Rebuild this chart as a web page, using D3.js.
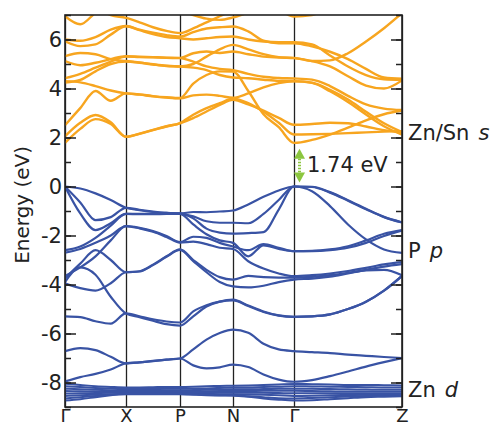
<!DOCTYPE html>
<html><head><meta charset="utf-8">
<script src="https://cdn.jsdelivr.net/npm/d3@7"></script>
<style>body{margin:0;background:#fff}svg{display:block}</style>
</head><body>
<svg id="c" width="499" height="427"></svg>
<script>
// ---------- data ----------
const kLabels = ["Γ", "X", "P", "N", "Γ", "Z"];
const kLabelPos = [0, 0.61, 1.15, 1.68, 2.29, 3.37];
const kGrid = [0, 0.1525, 0.305, 0.4575, 0.61, 0.745, 0.88, 1.015, 1.15, 1.2825, 1.415, 1.5475, 1.68,
  1.8325, 1.985, 2.1375, 2.29, 2.47, 2.65, 2.83, 3.01, 3.19, 3.37];

const valence = [
  [0, -0.08, -0.28, -0.55, -0.87, -0.97, -1.04, -1.08, -1.1, -1.04, -1.05, -1.02, -0.98, -0.73, -0.42, -0.16, 0, -0.01, -0.23, -0.56, -0.91, -1.24, -1.46],
  [0, -0.65, -1.37, -1.25, -0.87, -0.95, -1.02, -1.08, -1.12, -1.22, -1.42, -1.48, -1.48, -1.5, -1.12, -0.55, 0, -0.19, -0.8, -1.55, -2.16, -2.57, -2.71],
  [0, -1.1, -1.78, -1.5, -1.12, -1.12, -1.11, -1.11, -1.1, -1.3, -1.72, -1.88, -1.92, -1.9, -1.86, -0.94, 0, -0.02, -0.25, -0.58, -0.93, -1.25, -1.47],
  [-2.6, -2.45, -2.1, -1.6, -1.12, -1.13, -1.13, -1.12, -1.12, -1.55, -1.95, -2.2, -2.3, -2.85, -2.4, -2.55, -2.64, -2.63, -2.57, -2.44, -2.2, -1.93, -1.78],
  [-2.7, -2.55, -2.3, -2.0, -1.62, -1.69, -1.82, -2.02, -2.27, -2.05, -2.1, -2.3, -2.45, -2.6, -2.35, -2.5, -2.64, -2.64, -2.6, -2.5, -2.3, -2.02, -1.8],
  [-3.65, -3.3, -2.85, -2.2, -1.62, -1.71, -1.85, -2.06, -2.29, -2.25, -2.35, -2.5, -2.55, -3.05, -3.35, -3.55, -3.66, -3.62, -3.55, -3.45, -3.32, -3.18, -3.09],
  [-3.75, -3.15, -2.6, -3.0, -3.5, -3.46, -3.19, -2.85, -2.57, -3.0, -3.4, -3.7, -3.8, -3.65, -3.7, -3.72, -3.72, -3.69, -3.62, -3.52, -3.4, -3.27, -3.17],
  [-3.95, -4.15, -4.25, -3.95, -3.5, -3.47, -3.21, -2.87, -2.59, -3.05, -3.5, -3.9, -4.08, -4.12, -4.05, -3.9, -3.8, -3.76, -3.68, -3.55, -3.42, -3.4, -3.62],
  [-5.3, -5.33, -5.5, -5.6, -5.18, -5.3, -5.42, -5.51, -5.55, -5.1, -4.85, -4.7, -4.65, -4.88, -5.12, -5.27, -5.32, -5.3, -5.22, -5.0, -4.7, -4.25, -3.65],
  [-3.9, -3.3, -3.6, -4.5, -5.18, -5.33, -5.48, -5.62, -5.68, -5.3, -4.9, -4.7, -4.62, -4.86, -5.1, -5.26, -5.32, -5.3, -5.22, -5.0, -4.7, -4.25, -3.65],
  [-6.72, -6.6, -6.68, -6.95, -7.22, -7.18, -7.12, -7.07, -7.02, -6.65, -6.25, -5.98, -5.84, -5.97, -6.42, -6.65, -6.72, -6.76, -6.8, -6.86, -6.91, -6.96, -7.0],
  [-7.96, -7.78, -7.65, -7.47, -7.22, -7.18, -7.13, -7.07, -7.02, -7.3, -7.42, -7.38, -7.27, -7.37, -7.67, -7.88, -7.97, -7.9, -7.74, -7.55, -7.35, -7.17, -7.0]
];

const dBands = [
  [-8.05, -8.1, -8.15, -8.18, -8.2, -8.2, -8.19, -8.18, -8.18, -8.17, -8.15, -8.14, -8.13, -8.12, -8.1, -8.08, -8.06, -8.07, -8.08, -8.1, -8.1, -8.11, -8.12],
  [-8.15, -8.18, -8.22, -8.25, -8.27, -8.27, -8.27, -8.26, -8.26, -8.25, -8.24, -8.22, -8.2, -8.2, -8.18, -8.17, -8.15, -8.16, -8.17, -8.18, -8.19, -8.2, -8.2],
  [-8.25, -8.28, -8.3, -8.32, -8.33, -8.33, -8.33, -8.32, -8.32, -8.31, -8.3, -8.29, -8.28, -8.28, -8.27, -8.26, -8.25, -8.26, -8.27, -8.28, -8.29, -8.3, -8.3],
  [-8.35, -8.36, -8.37, -8.38, -8.38, -8.38, -8.38, -8.38, -8.38, -8.37, -8.36, -8.35, -8.35, -8.35, -8.34, -8.34, -8.34, -8.35, -8.36, -8.37, -8.37, -8.38, -8.38],
  [-8.45, -8.44, -8.43, -8.42, -8.42, -8.42, -8.42, -8.42, -8.43, -8.43, -8.43, -8.42, -8.42, -8.42, -8.42, -8.43, -8.44, -8.44, -8.44, -8.44, -8.44, -8.45, -8.45],
  [-8.55, -8.52, -8.5, -8.48, -8.47, -8.47, -8.47, -8.47, -8.47, -8.48, -8.48, -8.48, -8.48, -8.49, -8.5, -8.52, -8.55, -8.54, -8.52, -8.51, -8.5, -8.5, -8.5],
  [-8.65, -8.6, -8.55, -8.5, -8.48, -8.48, -8.48, -8.48, -8.48, -8.5, -8.52, -8.53, -8.53, -8.56, -8.6, -8.64, -8.65, -8.63, -8.6, -8.57, -8.55, -8.55, -8.55],
  [-8.73, -8.68, -8.6, -8.52, -8.45, -8.45, -8.45, -8.45, -8.45, -8.47, -8.5, -8.52, -8.53, -8.58, -8.65, -8.7, -8.73, -8.72, -8.68, -8.64, -8.6, -8.58, -8.56]
];

const conduction = [
  [1.78, 2.35, 2.75, 2.55, 2.03, 2.15, 2.3, 2.45, 2.58, 2.79, 3.06, 3.33, 3.54, 3.35, 3.1, 2.8, 2.52, 2.55, 2.6, 2.58, 2.45, 2.3, 2.2],
  [2.05, 2.6, 2.92, 2.62, 2.03, 2.16, 2.31, 2.46, 2.59, 2.93, 3.2, 3.4, 3.58, 3.4, 3.05, 2.6, 2.12, 2.13, 2.15, 2.18, 2.21, 2.24, 2.26],
  [2.5, 3.2, 3.9, 3.5, 3.8, 3.75, 3.68, 3.63, 3.6, 3.72, 3.75, 3.7, 3.62, 3.8, 4.05, 4.22, 4.29, 4.23, 3.89, 3.45, 2.94, 2.46, 2.12],
  [4.3, 4.25, 4.1, 3.92, 3.8, 3.76, 3.69, 3.64, 3.61, 4.2, 4.55, 4.7, 4.69, 3.9, 2.95, 2.42, 1.78, 1.9, 2.12, 2.4, 2.7, 2.95, 3.1],
  [4.42, 4.6, 4.85, 5.1, 5.3, 5.28, 5.27, 5.25, 5.24, 5.1, 4.9, 4.8, 4.75, 4.6, 4.48, 4.43, 4.41, 4.36, 4.1, 3.7, 3.35, 3.18, 3.12],
  [4.24, 4.35, 4.7, 5.0, 5.1, 5.05, 4.98, 4.92, 4.9, 4.85, 4.75, 4.55, 4.45, 4.42, 4.36, 4.31, 4.3, 4.24, 3.95, 3.55, 3.05, 2.58, 2.22],
  [5.12, 4.95, 5.05, 5.2, 5.32, 5.3, 5.28, 5.26, 5.25, 5.44, 5.51, 5.45, 5.51, 5.4, 5.3, 5.26, 5.25, 5.12, 5.15, 5.44, 5.92, 6.46, 7.08],
  [5.32, 5.45, 5.4, 5.2, 5.12, 5.06, 4.99, 4.93, 4.9, 5.0, 5.3, 5.6, 5.78, 5.6, 5.4, 5.28, 5.24, 5.12, 4.9, 4.5, 4.12, 4.0, 4.33],
  [5.93, 5.73, 5.8, 6.2, 6.54, 6.38, 6.22, 6.1, 6.05, 6.0, 6.05, 6.1, 6.12, 6.0, 5.92, 5.89, 5.89, 5.8, 5.35, 4.9, 4.55, 4.38, 4.36],
  [6.0, 5.95, 6.1, 6.4, 6.55, 6.4, 6.28, 6.18, 6.12, 6.3, 6.45, 6.5, 6.53, 6.33, 5.95, 5.85, 5.85, 5.72, 5.5, 5.2, 4.8, 4.45, 4.4],
  [6.95, 6.62, 7.1, 7.6, 7.9, 7.8, 7.6, 7.4, 7.2, 7.0, 6.85, 6.8, 6.9, 7.1, 7.3, 7.2, 6.94, 7.0, 7.3, 7.6, 7.9, 8.2, 8.5],
  [7.8, 7.5, 7.3, 7.0, 6.88, 6.7, 6.5, 6.35, 6.26, 6.45, 6.7, 6.95, 7.2, 7.4, 7.5, 7.5, 7.5, 7.6, 7.8, 8.0, 8.2, 8.4, 8.6]
];

const yMinorTicks = [-9, -8, -7, -6, -5, -4, -3, -2, -1, 0, 1, 2, 3, 4, 5, 6, 7];
const yMajorTicks = [-8, -6, -4, -2, 0, 2, 4, 6];
const gapValue = 1.74;
const gapLabel = "1.74 eV";
const bandLabels = [
  {main: "Zn/Sn", ital: "s", e: 1.88},
  {main: "P", ital: "p", e: -2.9},
  {main: "Zn", ital: "d", e: -8.6}
];

// ---------- layout ----------
const W = 499, H = 427;
const m = {left: 65, right: 97, top: 15, bottom: 20};
const iw = W - m.left - m.right, ih = H - m.top - m.bottom;
const FONT = "DejaVu Sans, sans-serif";
const blue = "#3953a4", orange = "#f7a51f", green = "#8cc63f";

const svg = d3.select("#c");
const g = svg.append("g").attr("transform", `translate(${m.left},${m.top})`);

const x = d3.scaleLinear().domain([kLabelPos[0], kLabelPos[kLabelPos.length - 1]]).range([0, iw]);
const y = d3.scaleLinear().domain([-9, 7]).range([ih, 0]);

g.append("clipPath").attr("id", "clip").append("rect").attr("width", iw).attr("height", ih);

// high-symmetry vertical lines + bottom labels
const xAxis = d3.axisBottom(x).tickValues(kLabelPos).tickSize(-ih).tickPadding(2)
  .tickFormat((d, i) => kLabels[i]);
const gx = g.append("g").attr("transform", `translate(0,${ih})`).call(xAxis);
gx.select(".domain").remove();
gx.selectAll("line").attr("stroke", "#222").attr("stroke-width", 1.3);
gx.selectAll("text").attr("font-family", FONT).attr("font-size", 18).attr("fill", "#222");

// bands
const line = d3.line().x((d, i) => x(kGrid[i])).y(d => y(d)).curve(d3.curveMonotoneX);
const bands = g.append("g").attr("clip-path", "url(#clip)");
bands.selectAll(".d").data(dBands).join("path")
  .attr("d", line).attr("fill", "none").attr("stroke", blue).attr("stroke-width", 2);
bands.selectAll(".v").data(valence).join("path")
  .attr("d", line).attr("fill", "none").attr("stroke", blue).attr("stroke-width", 2.2);
bands.selectAll(".c").data(conduction).join("path")
  .attr("d", line).attr("fill", "none").attr("stroke", orange).attr("stroke-width", 2.4);

// y axes
const ga = g.append("g").call(d3.axisLeft(y).tickValues(yMinorTicks).tickSize(-6).tickFormat(""));
ga.select(".domain").remove();
const gb = g.append("g").call(d3.axisLeft(y).tickValues(yMajorTicks).tickSize(-11).tickPadding(3)
  .tickFormat(d => (d < 0 ? "-" : "") + Math.abs(d)));
gb.select(".domain").remove();
gb.selectAll("text").attr("font-family", FONT).attr("font-size", 21).attr("fill", "#222");
const gc = g.append("g").attr("transform", `translate(${iw},0)`)
  .call(d3.axisRight(y).tickValues(yMinorTicks).tickSize(-6).tickFormat(""));
gc.select(".domain").remove();
const gd = g.append("g").attr("transform", `translate(${iw},0)`)
  .call(d3.axisRight(y).tickValues(yMajorTicks).tickSize(-11).tickFormat(""));
gd.select(".domain").remove();
[ga, gb, gc, gd].forEach(a => a.selectAll("line").attr("stroke", "#222").attr("stroke-width", 1.5));

// frame
g.append("rect").attr("width", iw).attr("height", ih).attr("fill", "none")
  .attr("stroke", "#222").attr("stroke-width", 1.6);

// y title
svg.append("text").attr("transform", `translate(22,${m.top + y(-0.75)}) rotate(-90)`)
  .attr("text-anchor", "middle").attr("dominant-baseline", "central")
  .attr("font-family", FONT).attr("font-size", 20).attr("fill", "#222").text("Energy (eV)");

// gap arrow
const ax = x(kLabelPos[4]) + 5.5;
const yTop = y(gapValue) + 5, yBot = y(0) - 4;
const ah = 10, aw = 5.5;
const ga2 = g.append("g");
ga2.append("line").attr("x1", ax).attr("x2", ax).attr("y1", yTop + ah).attr("y2", yBot - ah)
  .attr("stroke", green).attr("stroke-width", 3).attr("stroke-dasharray", "1.5,1.5");
ga2.append("path").attr("d", `M${ax},${yTop} L${ax - aw},${yTop + ah} L${ax + aw},${yTop + ah} Z`).attr("fill", green);
ga2.append("path").attr("d", `M${ax},${yBot} L${ax - aw},${yBot - ah} L${ax + aw},${yBot - ah} Z`).attr("fill", green);
g.append("text").attr("x", ax + 7.5).attr("y", y(gapValue / 2))
  .attr("dominant-baseline", "central")
  .attr("font-family", FONT).attr("font-size", 21).attr("fill", "#222").text(gapLabel);

// band character labels
const bl = g.selectAll(".bl").data(bandLabels).join("text")
  .attr("x", iw + 6).attr("y", d => y(d.e))
  .attr("font-family", FONT).attr("font-size", 21).attr("fill", "#222");
bl.append("tspan").text(d => d.main);
bl.append("tspan").attr("dx", 9).attr("font-style", "italic").text(d => d.ital);
</script>
</body></html>
